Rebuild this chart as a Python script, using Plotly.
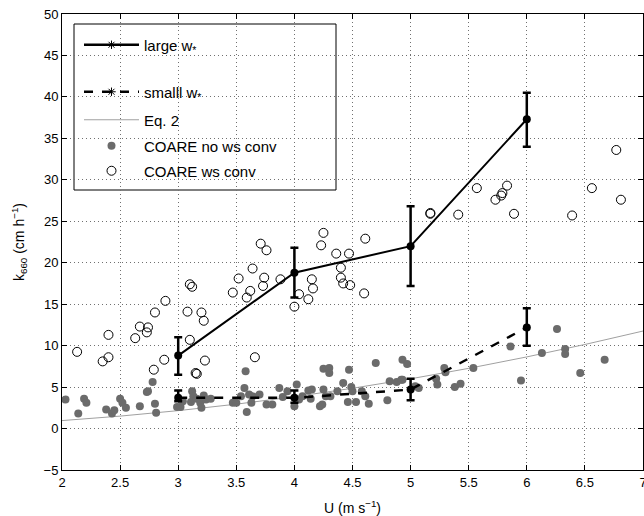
import plotly.graph_objects as go

# ---- data ----
u_bins = [3, 4, 5, 6]
large_k = [8.8, 18.8, 22.0, 37.3]
large_lo = [6.5, 15.8, 17.2, 34.0]
large_hi = [11.0, 21.8, 26.8, 40.5]

small_k = [3.7, 3.7, 4.7, 12.2]
small_lo = [3.3, 3.1, 3.4, 10.0]
small_hi = [4.6, 4.6, 6.0, 14.5]

eq2_u = [2.0, 2.5, 3.0, 3.5, 4.0, 4.5, 5.0, 5.5, 6.0, 6.5, 7.0]
eq2_k = [0.96, 1.5, 2.16, 2.94, 3.84, 4.86, 6.0, 7.26, 8.64, 10.14, 11.76]

noconv_u = [2.03, 2.14, 2.19, 2.21, 2.38, 2.43, 2.45, 2.50, 2.52, 2.55, 2.67, 2.73, 2.74,
            2.78, 2.80, 2.81, 2.99, 3.02, 3.04, 3.12, 3.13, 3.11, 3.16, 3.19, 3.20, 3.22,
            3.24, 3.28, 3.47, 3.50, 3.54, 3.57, 3.58, 3.59, 3.61, 3.63, 3.64, 3.70, 3.76,
            3.81, 3.87, 3.90, 3.94, 4.02, 4.00, 4.04, 4.07, 4.12, 4.15, 4.14, 4.22, 4.24,
            4.25, 4.27, 4.31, 4.25, 4.30, 4.30, 4.37, 4.42, 4.47, 4.49, 4.50, 4.46, 4.53,
            4.58, 4.61, 4.64, 4.70, 4.80, 4.82, 4.88, 4.92, 4.93, 4.93, 4.97, 5.04, 5.07,
            5.22, 5.23, 5.29, 5.30, 5.38, 5.43, 5.54, 5.86, 5.95, 6.13, 6.26, 6.33, 6.33,
            6.46, 6.67]
noconv_k = [3.5, 1.8, 3.6, 3.1, 2.3, 1.8, 2.2, 3.6, 3.1, 2.5, 2.7, 4.4, 4.5,
            5.6, 3.0, 1.9, 2.6, 2.6, 3.3, 4.5, 3.9, 3.2, 3.6, 3.1, 2.5, 4.0,
            3.5, 3.6, 3.1, 3.1, 3.9, 4.9, 6.9, 2.0, 4.1, 3.1, 3.9, 4.1, 2.9,
            2.9, 4.9, 3.8, 4.5, 5.3, 2.7, 3.5, 3.9, 4.6, 4.7, 3.6, 2.7, 2.9,
            4.7, 3.9, 3.9, 7.2, 7.3, 6.7, 4.5, 5.5, 7.1, 5.0, 4.5, 3.2, 3.2,
            4.5, 3.9, 3.0, 7.9, 3.4, 5.7, 5.6, 5.9, 5.9, 8.3, 7.8, 5.1, 4.9,
            6.0, 5.3, 7.3, 6.8, 5.0, 5.4, 7.3, 9.9, 5.8, 9.1, 12.0, 9.6, 9.0,
            6.7, 8.3]

conv_u = [2.13, 2.35, 2.40, 2.40, 2.63, 2.67, 2.73, 2.74, 2.80, 2.79, 2.88, 2.89, 3.08,
          3.10, 3.20, 3.22, 3.23, 3.15, 3.16, 3.66, 3.59, 4.00, 4.12, 3.10, 3.12, 3.47,
          3.52, 3.62, 3.64, 3.71, 3.76, 3.74, 3.73, 3.88, 4.04, 4.15, 4.16, 4.25, 4.23,
          4.36, 4.40, 4.40, 4.42, 4.47, 4.48, 4.61, 4.60, 5.17, 5.17, 5.41, 5.57, 5.73,
          5.78, 5.79, 5.83, 5.89, 6.39, 6.56, 6.77, 6.81]
conv_k = [9.25, 8.1, 8.6, 11.3, 10.9, 12.3, 11.6, 12.2, 14.0, 7.1, 8.3, 15.4, 14.1,
          10.7, 14.0, 13.0, 8.2, 6.7, 6.6, 8.6, 15.8, 14.7, 15.6, 17.4, 17.1, 16.4,
          18.1, 16.6, 19.3, 22.3, 21.5, 18.2, 17.2, 18.0, 16.2, 18.0, 16.9, 23.6, 22.1,
          21.1, 19.4, 18.2, 17.5, 21.1, 17.3, 22.9, 16.3, 26.0, 25.9, 25.8, 29.0, 27.6,
          28.1, 28.4, 29.3, 25.9, 25.7, 29.0, 33.6, 27.6]

x_ticks = [2, 2.5, 3, 3.5, 4, 4.5, 5, 5.5, 6, 6.5, 7]
x_labels = ["2", "2.5", "3", "3.5", "4", "4.5", "5", "5.5", "6", "6.5", "7"]
y_ticks = [-5, 0, 5, 10, 15, 20, 25, 30, 35, 40, 45, 50]
y_labels = ["−5", "0", "5", "10", "15", "20", "25", "30", "35", "40", "45", "50"]

legend_names = ["large w<sub>*</sub>", "smalll w<sub>*</sub>", "Eq. 2",
                "COARE no ws conv", "COARE ws conv"]

fig = go.Figure()

# scatter clouds
fig.add_trace(go.Scatter(x=eq2_u, y=eq2_k, mode="lines", line=dict(color="#a0a0a0", width=1),
                         showlegend=False, hoverinfo="skip"))
fig.add_trace(go.Scatter(x=noconv_u, y=noconv_k, mode="markers",
                         marker=dict(color="#6b6b6b", size=8, line=dict(width=0)),
                         showlegend=False))
fig.add_trace(go.Scatter(x=conv_u, y=conv_k, mode="markers",
                         marker=dict(color="rgba(0,0,0,0)", size=9, line=dict(color="black", width=1)),
                         showlegend=False))

# binned lines
fig.add_trace(go.Scatter(
    x=u_bins, y=small_k, mode="lines+markers",
    line=dict(color="black", width=2.5, dash="dash"),
    marker=dict(color="black", size=8),
    error_y=dict(type="data", symmetric=False,
                 array=[h - k for h, k in zip(small_hi, small_k)],
                 arrayminus=[k - l for k, l in zip(small_k, small_lo)],
                 color="black", thickness=2.5, width=4),
    showlegend=False))
fig.add_trace(go.Scatter(
    x=u_bins, y=large_k, mode="lines+markers",
    line=dict(color="black", width=2),
    marker=dict(color="black", size=8),
    error_y=dict(type="data", symmetric=False,
                 array=[h - k for h, k in zip(large_hi, large_k)],
                 arrayminus=[k - l for k, l in zip(large_k, large_lo)],
                 color="black", thickness=2.5, width=4),
    showlegend=False))

# legend entries (each in its own legend so the spacing can follow the reference)
star = dict(symbol="asterisk-open", size=7, color="black", line=dict(width=1, color="black"))
fig.add_trace(go.Scatter(x=[None], y=[None], mode="lines+markers", name=legend_names[0],
                         line=dict(color="black", width=2.5), marker=star, legend="legend"))
fig.add_trace(go.Scatter(x=[None], y=[None], mode="lines+markers", name=legend_names[1],
                         line=dict(color="black", width=2.5, dash="dash"), marker=star,
                         legend="legend2"))
fig.add_trace(go.Scatter(x=[None], y=[None], mode="lines", name=legend_names[2],
                         line=dict(color="#a0a0a0", width=1), legend="legend3"))
fig.add_trace(go.Scatter(x=[None], y=[None], mode="markers", name=legend_names[3],
                         marker=dict(color="#6b6b6b", size=8), legend="legend4"))
fig.add_trace(go.Scatter(x=[None], y=[None], mode="markers", name=legend_names[4],
                         marker=dict(color="rgba(0,0,0,0)", size=9, line=dict(color="black", width=1)),
                         legend="legend5"))

axis_common = dict(
    showline=True, linecolor="black", linewidth=1, mirror="ticks",
    ticks="inside", ticklen=5, tickcolor="black",
    showgrid=True, gridcolor="#707070", gridwidth=1, griddash="1px,3px",
    zeroline=False, tickfont=dict(size=13, color="black"),
    automargin=False, ticklabeloverflow="allow",
)

fig.update_xaxes(range=[2, 7], tickvals=x_ticks, ticktext=x_labels,
                 title=dict(text="U (m s<sup>−1</sup>)", font=dict(size=14, color="black")),
                 **axis_common)
fig.update_yaxes(range=[-5, 50], tickvals=y_ticks, ticktext=y_labels,
                 title=dict(text="k<sub>660</sub> (cm h<sup>−1</sup>)", font=dict(size=14, color="black")),
                 **axis_common)

# plot area spans 581 x 456 px
def leg(ypix):
    return dict(x=(79 - 62) / 581, y=(470 - ypix) / 456, xanchor="left", yanchor="middle",
                bgcolor="rgba(0,0,0,0)", borderwidth=0, font=dict(size=15, color="black"),
                itemwidth=55)

fig.update_layout(
    width=644, height=516,
    margin=dict(l=62, r=1, t=14, b=46),
    paper_bgcolor="white", plot_bgcolor="white",
    font=dict(family="Liberation Sans, Arial, sans-serif", color="black"),
    legend=leg(45), legend2=leg(92), legend3=leg(120), legend4=leg(146), legend5=leg(171),
    shapes=[dict(type="rect", xref="paper", yref="paper",
                 x0=(74 - 62) / 581, x1=(336 - 62) / 581,
                 y0=(470 - 190) / 456, y1=(470 - 24) / 456,
                 line=dict(color="black", width=1), fillcolor="white", layer="between")],
)

fig.write_html("out.html", config={"displayModeBar": False},
               post_script="document.body.style.margin='0';document.body.style.overflow='hidden';")
